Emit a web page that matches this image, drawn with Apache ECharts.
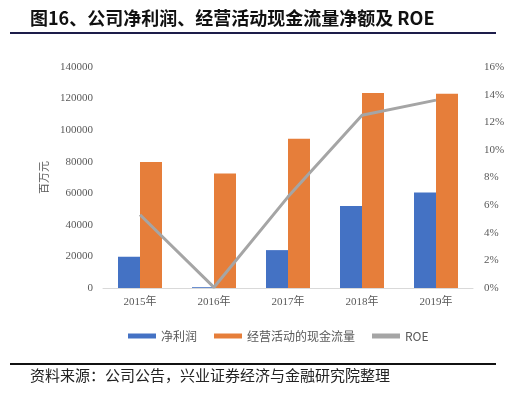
<!DOCTYPE html>
<html>
<head>
<meta charset="utf-8">
<script src="https://cdn.jsdelivr.net/npm/echarts@6/dist/echarts.min.js"></script>
<style>
  html, body { margin: 0; padding: 0; background: #fff; }
  #chart { width: 530px; height: 399px; }
</style>
</head>
<body>
<div id="chart"></div>
<script>
var years = ["2015年", "2016年", "2017年", "2018年", "2019年"];
var netProfit = [19800, 500, 24000, 52000, 60500];
var operCash = [79800, 72500, 94500, 123500, 123000];
var roe = [5.3, 0.05, 6.6, 12.5, 13.6];

var chart = echarts.init(document.getElementById("chart"));
var axisFont = { color: "#595959", fontSize: 11, fontFamily: "Liberation Serif, Noto Sans CJK SC" };

var option = {
  animation: false,
  color: ["#4472C4", "#E67E3A", "#A5A5A5"],
  graphic: [
    {
      type: "text", left: 30, top: 9,
      style: { text: "图16、公司净利润、经营活动现金流量净额及 ROE", fill: "#111",
        font: "bold 18px 'Noto Sans CJK SC'" }
    },
    { type: "line", shape: { x1: 10, y1: 33, x2: 496, y2: 33 }, style: { stroke: "#1d1d4a", lineWidth: 2 } },
    { type: "line", shape: { x1: 10, y1: 364, x2: 496, y2: 364 }, style: { stroke: "#111", lineWidth: 2 } },
    {
      type: "text", left: 30, top: 368,
      style: { text: "资料来源：公司公告，兴业证券经济与金融研究院整理", fill: "#222",
        font: "15px 'Noto Sans CJK SC'" }
    }
  ],
  legend: {
    left: 123, top: 325,
    itemWidth: 28, itemHeight: 5, itemGap: 17,
    textStyle: { color: "#595959", fontSize: 12, fontFamily: "Noto Sans CJK SC, Liberation Serif" },
    data: [
      { name: "净利润", icon: "rect" },
      { name: "经营活动的现金流量", icon: "rect" },
      { name: "ROE", icon: "rect" }
    ]
  },
  grid: { left: 103, right: 57, top: 67, bottom: 111 },
  xAxis: {
    type: "category",
    data: years,
    axisLine: { lineStyle: { color: "#d9d9d9" } },
    axisTick: { show: false },
    axisLabel: Object.assign({ margin: 9 }, axisFont)
  },
  yAxis: [
    {
      type: "value", min: 0, max: 140000, interval: 20000,
      name: "百万元", nameLocation: "middle", nameGap: 50,
      nameTextStyle: { color: "#595959", fontSize: 11, fontFamily: "Noto Sans CJK SC" },
      axisLine: { show: false }, axisTick: { show: false },
      splitLine: { show: false },
      axisLabel: Object.assign({ margin: 10, formatter: function (v) { return String(v); } }, axisFont)
    },
    {
      type: "value", min: 0, max: 16, interval: 2,
      axisLine: { show: false }, axisTick: { show: false },
      splitLine: { show: false },
      axisLabel: Object.assign({ margin: 11, formatter: "{value}%" }, axisFont)
    }
  ],
  series: [
    { name: "净利润", type: "bar", data: netProfit, barWidth: 22, barGap: "0%" },
    { name: "经营活动的现金流量", type: "bar", data: operCash, barWidth: 22 },
    {
      name: "ROE", type: "line", yAxisIndex: 1, data: roe,
      symbol: "none", lineStyle: { width: 3, color: "#A5A5A5" }
    }
  ]
};

chart.setOption(option);
</script>
</body>
</html>
